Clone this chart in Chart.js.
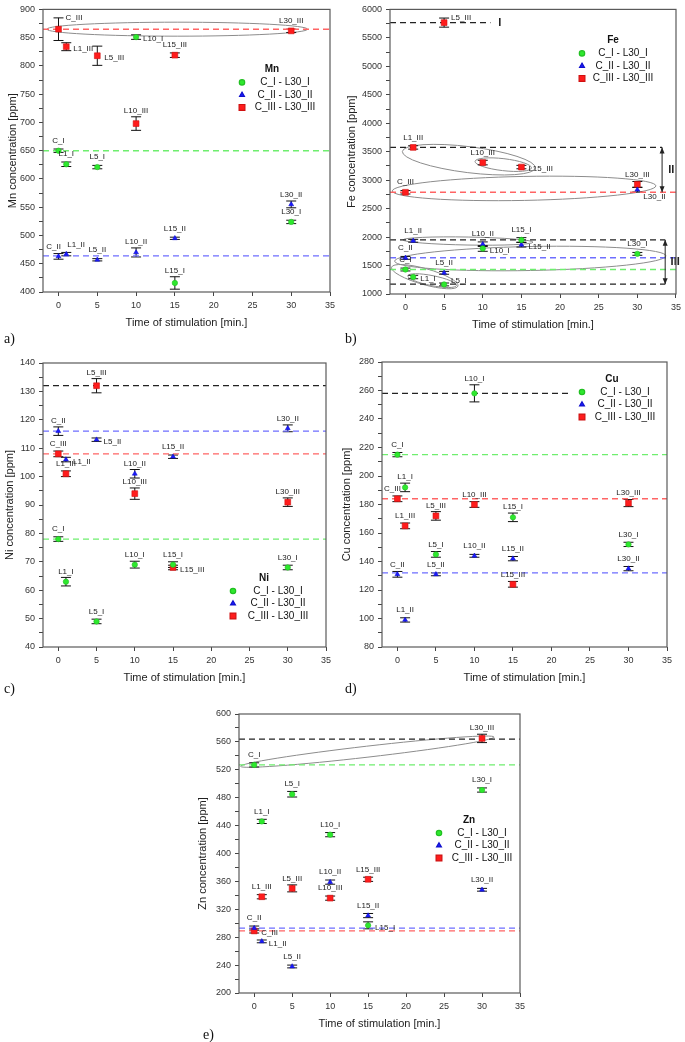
<!DOCTYPE html>
<html lang="en">
<head>
<meta charset="UTF-8">
<title>Mn, Fe, Ni, Cu, Zn vs time of stimulation</title>
<script src="https://cdn.jsdelivr.net/npm/chart.js"></script>
<style>
    body { margin: 0; background: #fff; width: 685px; height: 1042px; position: relative; overflow: hidden; }
    canvas { position: absolute; }
    .tag { position: absolute; font-family: "Liberation Serif", "Times New Roman", serif; font-size: 14px; color: #111; line-height: 18px; }
</style>
</head>
<body>
<canvas id="mn" width="340" height="330" style="left:0;top:0"></canvas>
<canvas id="fe" width="345" height="332" style="left:340px;top:0"></canvas>
<canvas id="ni" width="340" height="345" style="left:0;top:340px"></canvas>
<canvas id="cu" width="345" height="345" style="left:340px;top:340px"></canvas>
<canvas id="zn" width="360" height="341" style="left:170px;top:690px"></canvas>
<div class="tag" style="left:4px;top:330px">a)</div>
<div class="tag" style="left:345px;top:330px">b)</div>
<div class="tag" style="left:4px;top:680px">c)</div>
<div class="tag" style="left:345px;top:680px">d)</div>
<div class="tag" style="left:203px;top:1026px">e)</div>

<script>
// shared
const times = [0, 1, 5, 10, 15, 30];
const namesI = ['C_I', 'L1_I', 'L5_I', 'L10_I', 'L15_I', 'L30_I'];
const namesII = ['C_II', 'L1_II', 'L5_II', 'L10_II', 'L15_II', 'L30_II'];
const namesIII = ['C_III', 'L1_III', 'L5_III', 'L10_III', 'L15_III', 'L30_III'];
const seriesLabels = ['C_I - L30_I', 'C_II - L30_II', 'C_III - L30_III'];
const xTicks = [0, 5, 10, 15, 20, 25, 30, 35];

// Mn
const mnI = [650, 626, 621, 851, 416, 524];
const mnII = [463, 467, 457, 470, 495, 555];
const mnIII = [865, 834, 818, 698, 819, 862];
const mnErrI = [3, 4, 3, 4, 11, 3];
const mnErrII = [5, 3, 2, 8, 2, 6];
const mnErrIII = [20, 7, 17, 12, 4, 3];
const mnMeans = [650, 464, 865];
const mnTicks = [400, 450, 500, 550, 600, 650, 700, 750, 800, 850, 900];

// Fe
const feI = [1430, 1298, 1168, 1800, 1950, 1705];
const feII = [1635, 1935, 1372, 1875, 1865, 2832];
const feIII = [2787, 3575, 5768, 3309, 3230, 2926];
const feErrI = [25, 30, 25, 50, 40, 25];
const feErrII = [25, 25, 25, 40, 40, 40];
const feErrIII = [30, 30, 80, 40, 30, 50];
const feMeans = [1430, 1638, 2787];
const feLevels = [5768, 3575, 1951, 1172];
const feTicks = [1000, 1500, 2000, 2500, 3000, 3500, 4000, 4500, 5000, 5500, 6000];

// Ni
const niI = [78, 63, 49, 69, 69, 68];
const niII = [116, 106, 113, 101, 107, 117];
const niIII = [108, 101, 132, 94, 68, 91];
const niErrI = [0.8, 1.5, 0.8, 1.2, 1, 0.8];
const niErrII = [1.5, 0.8, 0.6, 1.5, 0.6, 1.2];
const niErrIII = [1, 1, 2.5, 2, 0.8, 1.5];
const niMeans = [78, 116, 108];
const niLevels = [132];
const niTicks = [40, 50, 60, 70, 80, 90, 100, 110, 120, 130, 140];

// Cu
const cuI = [215, 192, 145, 258, 171, 152];
const cuII = [131, 99, 131, 144, 142, 135];
const cuIII = [184, 165, 172, 180, 124, 181];
const cuErrI = [1.5, 3, 2, 6, 3, 1.5];
const cuErrII = [2, 1.5, 1, 1, 1.5, 1.5];
const cuErrIII = [2, 2, 3, 2, 2, 2.5];
const cuMeans = [215, 132, 184];
const cuLevels = [258];
const cuTicks = [80, 100, 120, 140, 160, 180, 200, 220, 240, 260, 280];

// Zn
const znI = [527, 446, 485, 427, 297, 491];
const znII = [293, 274, 238, 359, 311, 348];
const znIII = [289, 338, 350, 336, 363, 565];
const znErrI = [3, 3, 4, 3, 5, 3];
const znErrII = [3, 2, 2, 3, 3, 2];
const znErrIII = [3, 3, 5, 3, 3, 6];
const znMeans = [527, 293, 289];
const znLevels = [564];
const znTicks = [200, 240, 280, 320, 360, 400, 440, 480, 520, 560, 600];

const FONT = '"Liberation Sans", Arial, sans-serif';
const styles = [
    { shape: 'circle', r: 2.7, color: '#2ee82e', edge: '#22c022' },
    { shape: 'triangle', r: 2.8, color: '#1a1aff', edge: '#1010cc' },
    { shape: 'rect', r: 4.1, color: '#ff1c1c', edge: '#d01010' }
];
const meanColors = ['#6fee6f', '#6e6eff', '#ff6464'];

function drawLabels(ctx, x, y, sets, errs, names, pos) {
    ctx.font = '8px ' + FONT;
    ctx.fillStyle = '#222';
    sets.forEach((vals, k) => {
        times.forEach((t, i) => {
            const px = x.getPixelForValue(t);
            const py = y.getPixelForValue(vals[i]);
            const top = Math.min(y.getPixelForValue(vals[i] + errs[k][i]), py - 4);
            const p = pos[k][i];
            const name = names[k][i];
            if (p === 'a') {
                ctx.textAlign = 'center'; ctx.textBaseline = 'bottom';
                ctx.fillText(name, px, top - 2);
            } else if (p === 'al') {
                ctx.textAlign = 'center'; ctx.textBaseline = 'bottom';
                ctx.fillText(name, px - 5, top - 2);
            } else if (p === 'ar') {
                ctx.textAlign = 'left'; ctx.textBaseline = 'bottom';
                ctx.fillText(name, px + 1, top - 1);
            } else if (p === 'ur') {
                ctx.textAlign = 'left'; ctx.textBaseline = 'middle';
                ctx.fillText(name, px + 7, top);
            } else if (p === 'br') {
                ctx.textAlign = 'left'; ctx.textBaseline = 'top';
                ctx.fillText(name, px + 6, py + 3);
            } else {
                ctx.textAlign = 'left'; ctx.textBaseline = 'middle';
                ctx.fillText(name, px + 7, py + 2);
            }
        });
    });
}

function makeChart(id, cfg) {
    const sets = [cfg.I, cfg.II, cfg.III];
    const errs = [cfg.errI, cfg.errII, cfg.errIII];
    const names = [namesI, namesII, namesIII];
    const majors = cfg.yTicks;
    const half = (majors[1] - majors[0]) / 2;
    const yAll = [];
    majors.forEach((v, i) => { yAll.push(v); if (i < majors.length - 1) yAll.push(v + half); });

    const datasets = [];
    styles.forEach((s, k) => {
        datasets.push({
            label: seriesLabels[k],
            data: times.map((t, i) => ({ x: t, y: sets[k][i] })),
            pointStyle: s.shape, pointRadius: s.r, backgroundColor: s.color,
            borderColor: s.edge, borderWidth: 0.6, showLine: false, order: 1
        });
    });
    cfg.means.forEach((v, k) => {
        datasets.push({
            type: 'line', data: [{ x: -2, y: v }, { x: 35, y: v }],
            borderColor: meanColors[k], borderDash: [6, 4], borderWidth: 1.4, pointRadius: 0, order: 5
        });
    });
    (cfg.levels || []).forEach((v, k) => {
        datasets.push({
            type: 'line', data: [{ x: -2, y: v }, { x: cfg.levelEnds[k], y: v }],
            borderColor: '#222', borderDash: [6, 4], borderWidth: 1.2, pointRadius: 0, order: 4
        });
    });

    const decor = {
        id: 'decor',
        beforeDatasetsDraw(chart) {
            const { ctx, scales: { x, y } } = chart;
            ctx.save();
            ctx.strokeStyle = '#8c8c8c';
            ctx.lineWidth = 1;
            (cfg.rings || []).forEach(([x1, y1, x2, y2, r]) => {
                const ax = x.getPixelForValue(x1), ay = y.getPixelForValue(y1);
                const bx = x.getPixelForValue(x2), by = y.getPixelForValue(y2);
                ctx.beginPath();
                ctx.ellipse((ax + bx) / 2, (ay + by) / 2, Math.hypot(bx - ax, by - ay) / 2, r,
                    Math.atan2(by - ay, bx - ax), 0, Math.PI * 2);
                ctx.stroke();
            });
            ctx.strokeStyle = '#111';
            sets.forEach((vals, k) => {
                times.forEach((t, i) => {
                    const px = x.getPixelForValue(t);
                    const t1 = y.getPixelForValue(vals[i] + errs[k][i]);
                    const b1 = y.getPixelForValue(vals[i] - errs[k][i]);
                    ctx.beginPath();
                    ctx.moveTo(px, t1); ctx.lineTo(px, b1);
                    ctx.moveTo(px - 5, t1); ctx.lineTo(px + 5, t1);
                    ctx.moveTo(px - 5, b1); ctx.lineTo(px + 5, b1);
                    ctx.stroke();
                });
            });
            ctx.restore();
        },
        afterDatasetsDraw(chart) {
            const { ctx, chartArea: a, scales: { x, y } } = chart;
            ctx.save();
            drawLabels(ctx, x, y, sets, errs, names, cfg.pos);

            // arrows and roman numerals
            ctx.strokeStyle = '#222';
            ctx.fillStyle = '#222';
            ctx.lineWidth = 1;
            (cfg.arrows || []).forEach(([ax, y1, y2]) => {
                const px = x.getPixelForValue(ax);
                const p1 = y.getPixelForValue(y1), p2 = y.getPixelForValue(y2);
                ctx.beginPath(); ctx.moveTo(px, p1); ctx.lineTo(px, p2); ctx.stroke();
                [[p1, 1], [p2, -1]].forEach(([py, d]) => {
                    ctx.beginPath();
                    ctx.moveTo(px, py); ctx.lineTo(px - 2.5, py + 6 * d); ctx.lineTo(px + 2.5, py + 6 * d);
                    ctx.closePath(); ctx.fill();
                });
            });
            ctx.font = 'bold 11px ' + FONT;
            ctx.textAlign = 'left'; ctx.textBaseline = 'middle';
            (cfg.marks || []).forEach(([mx, my, txt]) => {
                ctx.fillText(txt, x.getPixelForValue(mx), y.getPixelForValue(my));
            });

            // frame
            ctx.strokeStyle = '#5a5a5a';
            ctx.lineWidth = 1.2;
            ctx.strokeRect(a.left, a.top, a.right - a.left, a.bottom - a.top);

            // legend
            const lg = cfg.legend;
            ctx.fillStyle = '#111';
            ctx.font = 'bold 10px ' + FONT;
            ctx.textAlign = 'center';
            ctx.fillText(cfg.element, a.left + lg[0], a.top + lg[1]);
            ctx.font = '10px ' + FONT;
            styles.forEach((s, k) => {
                const yy = a.top + lg[1] + 13 + k * 12.5;
                ctx.fillStyle = s.color;
                ctx.strokeStyle = s.edge;
                Chart.helpers.drawPoint(ctx, { pointStyle: s.shape, radius: s.r, borderWidth: 0.6, rotation: 0 }, a.left + lg[2], yy);
                ctx.fillStyle = '#111';
                ctx.fillText(seriesLabels[k], a.left + lg[3], yy);
            });
            ctx.restore();
        }
    };

    return new Chart(document.getElementById(id), {
        type: 'scatter',
        data: { datasets },
        options: {
            responsive: false,
            animation: false,
            events: [],
            layout: { padding: { top: cfg.pad[0], right: cfg.pad[1], left: 0, bottom: 0 } },
            plugins: { legend: { display: false }, tooltip: { enabled: false } },
            scales: {
                x: {
                    type: 'linear', min: -2, max: 35,
                    afterBuildTicks: s => { s.ticks = xTicks.map(v => ({ value: v })); },
                    afterFit: s => { s.height = 38; },
                    grid: { drawOnChartArea: false, drawTicks: true, tickLength: 4, color: '#444' },
                    border: { display: false },
                    ticks: { font: { size: 9, family: FONT }, color: '#333', padding: 4, maxRotation: 0, autoSkip: false },
                    title: { display: true, text: 'Time of stimulation [min.]', font: { size: 11, family: FONT }, color: '#222', padding: 0 }
                },
                y: {
                    type: 'linear', min: majors[0], max: majors[majors.length - 1],
                    afterBuildTicks: s => { s.ticks = yAll.map(v => ({ value: v })); },
                    afterFit: s => { s.width = cfg.yw; },
                    grid: { drawOnChartArea: false, drawTicks: true, tickLength: 4, color: '#444' },
                    border: { display: false },
                    ticks: {
                        font: { size: 9, family: FONT }, color: '#333', padding: 4, autoSkip: false,
                        callback: v => majors.includes(v) ? v : ''
                    },
                    title: {
                        display: true, text: cfg.element + ' concentration [ppm]',
                        font: { size: 11, family: FONT }, color: '#222', padding: { top: cfg.ytp, bottom: 0 }
                    }
                }
            }
        },
        plugins: [decor]
    });
}

makeChart('mn', {
    element: 'Mn', I: mnI, II: mnII, III: mnIII, errI: mnErrI, errII: mnErrII, errIII: mnErrIII,
    means: mnMeans, yTicks: mnTicks, yw: 43, ytp: 6, pad: [6, 10],
    pos: [['a', 'a', 'a', 'r', 'a', 'a'], ['al', 'ar', 'a', 'a', 'a', 'a'], ['ur', 'r', 'r', 'a', 'a', 'a']],
    rings: [[-1.5, 865, 32.1, 865, 7]],
    legend: [229, 60, 199, 242]
});

makeChart('fe', {
    element: 'Fe', I: feI, II: feII, III: feIII, errI: feErrI, errII: feErrII, errIII: feErrIII,
    means: feMeans, levels: feLevels, levelEnds: [11, 33.2, 33.6, 33.6],
    yTicks: feTicks, yw: 50, ytp: 5, pad: [7, 5],
    pos: [['a', 'r', 'ur', 'r', 'a', 'a'], ['a', 'a', 'a', 'a', 'r', 'br'], ['a', 'a', 'ur', 'a', 'r', 'a']],
    rings: [
        [-0.4, 3505, 16.8, 3215, 13],
        [9.0, 3330, 16.3, 3215, 6],
        [-1.7, 2810, 32.4, 2900, 12],
        [-0.3, 1951, 16.5, 1910, 4],
        [-1.4, 1577, 33.7, 1670, 12],
        [-1.8, 1470, 6.8, 1140, 8],
        [0.3, 1320, 6.6, 1150, 5]
    ],
    arrows: [[33.2, 3575, 2787], [33.6, 1951, 1172]],
    marks: [[12, 5768, 'I'], [34.0, 3180, 'II'], [34.3, 1560, 'III']],
    legend: [223, 31, 192, 233]
});

makeChart('ni', {
    element: 'Ni', I: niI, II: niII, III: niIII, errI: niErrI, errII: niErrII, errIII: niErrIII,
    means: niMeans, levels: niLevels, levelEnds: [35], yTicks: niTicks, yw: 43, ytp: 3, pad: [23, 14],
    pos: [['a', 'a', 'a', 'a', 'a', 'a'], ['a', 'r', 'r', 'a', 'a', 'a'], ['a', 'a', 'a', 'a', 'r', 'a']],
    legend: [221, 215, 190, 235]
});

makeChart('cu', {
    element: 'Cu', I: cuI, II: cuII, III: cuIII, errI: cuErrI, errII: cuErrII, errIII: cuErrIII,
    means: cuMeans, levels: cuLevels, levelEnds: [22.5], yTicks: cuTicks, yw: 42, ytp: 0, pad: [22, 18],
    pos: [['a', 'a', 'a', 'a', 'a', 'a'], ['a', 'a', 'a', 'a', 'a', 'a'], ['al', 'a', 'a', 'a', 'a', 'a']],
    legend: [230, 17, 200, 243]
});

makeChart('zn', {
    element: 'Zn', I: znI, II: znII, III: znIII, errI: znErrI, errII: znErrII, errIII: znErrIII,
    means: znMeans, levels: znLevels, levelEnds: [35], yTicks: znTicks, yw: 69, ytp: 26, pad: [24, 10],
    pos: [['a', 'a', 'a', 'a', 'r', 'a'], ['a', 'r', 'a', 'a', 'a', 'a'], ['r', 'a', 'a', 'a', 'a', 'a']],
    rings: [[-1.8, 525, 31.6, 567, 5.5]],
    legend: [230, 106, 200, 243]
});
</script>
</body>
</html>
